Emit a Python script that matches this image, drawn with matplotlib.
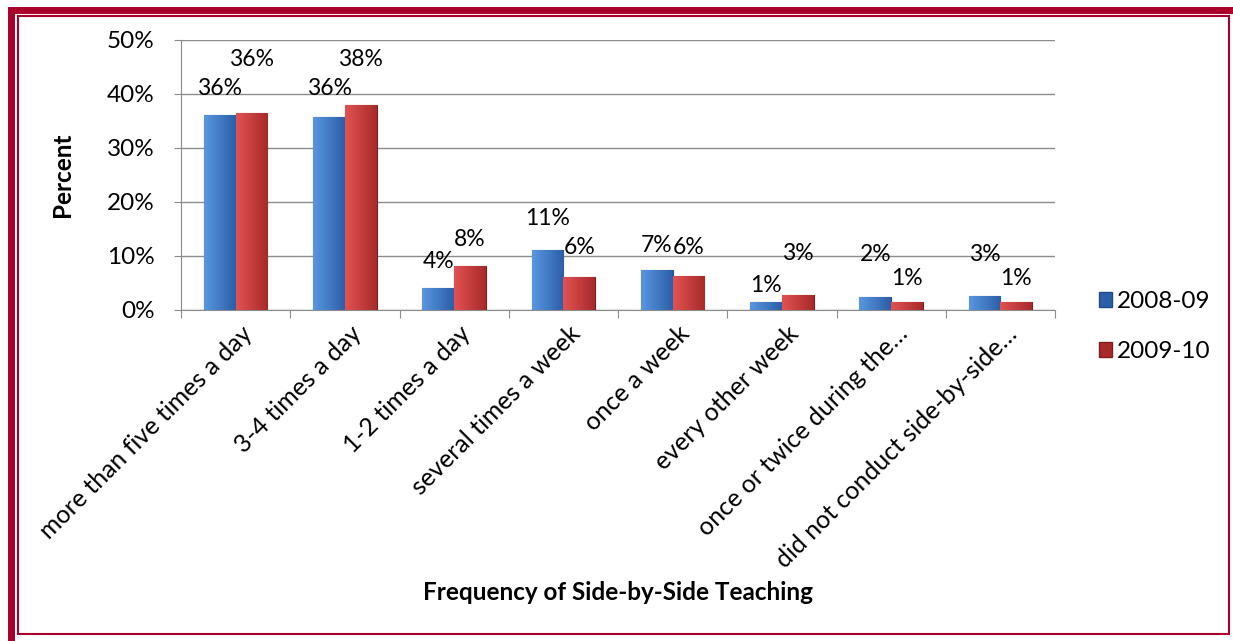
import matplotlib.pyplot as plt
import numpy as np
from matplotlib.patches import Rectangle
from matplotlib.transforms import offset_copy

plt.rcParams['font.family'] = ['Lato', 'DejaVu Sans']

categorias = ['more than five times a day', '3-4 times a day', '1-2 times a day',
              'several times a week', 'once a week', 'every other week',
              'once or twice during the…', 'did not conduct side-by-side…']
anos = ['2008-09', '2009-10']
valores_0809 = [36.1, 35.7, 4.0, 11.1, 7.4, 1.4, 2.4, 2.6]
valores_0910 = [36.4, 38.0, 8.1, 6.1, 6.3, 2.8, 1.4, 1.4]

# deslocamento vertical dos rotulos (em pontos percentuais), como no original
desloc_0809 = [5.0, 5.4, 4.9, 5.9, 4.6, 3.2, 7.8, 7.6]
desloc_0910 = [9.9, 8.3, 4.9, 5.4, 5.2, 7.7, 4.5, 4.5]

cores = {'2008-09': ('#5a96e0', '#2b5fa8', '#1f4a85'),
         '2009-10': ('#e25252', '#a82a2a', '#7d1d1d')}
BORDA = '#a8002a'
CINZA = '#8c8c8c'
TAM = 17.5

W, H = 1233, 641
fig = plt.figure(figsize=(W / 100, H / 100), dpi=100)
ax = fig.add_axes([181 / W, 1 - 310 / H, (1055 - 181) / W, (310 - 40) / H])

x = np.arange(len(categorias))
larg = 0.29


def barras_degrade(xs, vals, ano):
    claro, escuro, borda = cores[ano]
    barras = ax.bar(xs, vals, larg, color=escuro, edgecolor=borda, linewidth=0.8, zorder=3)
    grad = np.linspace(0, 1, 64).reshape(1, -1)
    cmap = plt.matplotlib.colors.LinearSegmentedColormap.from_list('g', [claro, escuro])
    for b in barras:
        x0, y0 = b.get_x(), b.get_y()
        im = ax.imshow(grad, extent=[x0, x0 + b.get_width(), y0, y0 + b.get_height()],
                       cmap=cmap, aspect='auto', zorder=3.5, origin='lower')
        im.set_clip_path(b)
    return barras


barras_degrade(x - larg / 2, valores_0809, anos[0])
barras_degrade(x + larg / 2, valores_0910, anos[1])

for i in range(len(categorias)):
    ax.text(x[i] - larg / 2, valores_0809[i] + desloc_0809[i], f'{valores_0809[i]:.0f}%',
            ha='center', va='center', fontsize=16.5, zorder=5)
    ax.text(x[i] + larg / 2, valores_0910[i] + desloc_0910[i], f'{valores_0910[i]:.0f}%',
            ha='center', va='center', fontsize=16.5, zorder=5)

ax.set_xlim(-0.5, len(categorias) - 0.5)
ax.set_ylim(0, 50)
ax.set_yticks(range(0, 51, 10))
ax.set_yticklabels([f'{v}%' for v in range(0, 51, 10)], fontsize=TAM)
ax.yaxis.grid(True, color=CINZA, linewidth=1, zorder=0)
ax.set_axisbelow(True)
ax.tick_params(axis='y', length=5, color=CINZA, pad=14)

ax.set_xticks(np.arange(-0.5, len(categorias), 1.0))
ax.set_xticklabels([])
ax.tick_params(axis='x', length=6, color=CINZA)
desl = offset_copy(ax.transData, fig=fig, x=5, y=-12, units='dots')
for i, c in enumerate(categorias):
    ax.text(x[i], 0, c, rotation=45, ha='right', va='top', rotation_mode='anchor',
            fontsize=18, transform=desl, clip_on=False)

for lado in ['top', 'right']:
    ax.spines[lado].set_visible(False)
for lado in ['left', 'bottom']:
    ax.spines[lado].set_color(CINZA)

fig.text(63 / W, 1 - 175 / H, 'Percent', rotation=90, ha='center', va='center',
         fontsize=TAM, fontweight='bold')
fig.text(618 / W, 1 - 592 / H, 'Frequency of Side-by-Side Teaching', ha='center', va='center',
         fontsize=TAM, fontweight='bold')

# legenda
alcas = [Rectangle((0, 0), 1, 1, fc=cores[a][1], ec=cores[a][2]) for a in anos]
fig.legend(alcas, anos, loc='upper left', bbox_to_anchor=(1094 / W, 1 - 286 / H),
           frameon=False, fontsize=TAM, handlelength=0.55, handleheight=0.55,
           handletextpad=0.2, labelspacing=1.2, borderaxespad=0, borderpad=0.2)

# moldura vermelha dupla
fig.patches.append(Rectangle((10.5 / W, -1.5 / H), (W + 20) / W, (H - 9.5 + 1.5) / H,
                             transform=fig.transFigure, fill=False, ec=BORDA, lw=5))
fig.patches.append(Rectangle((18 / W, 1 - 634 / H), (1229 - 18) / W, (634 - 16) / H,
                             transform=fig.transFigure, fill=False, ec=BORDA, lw=1.5))

fig.savefig('out.png', dpi=100)
